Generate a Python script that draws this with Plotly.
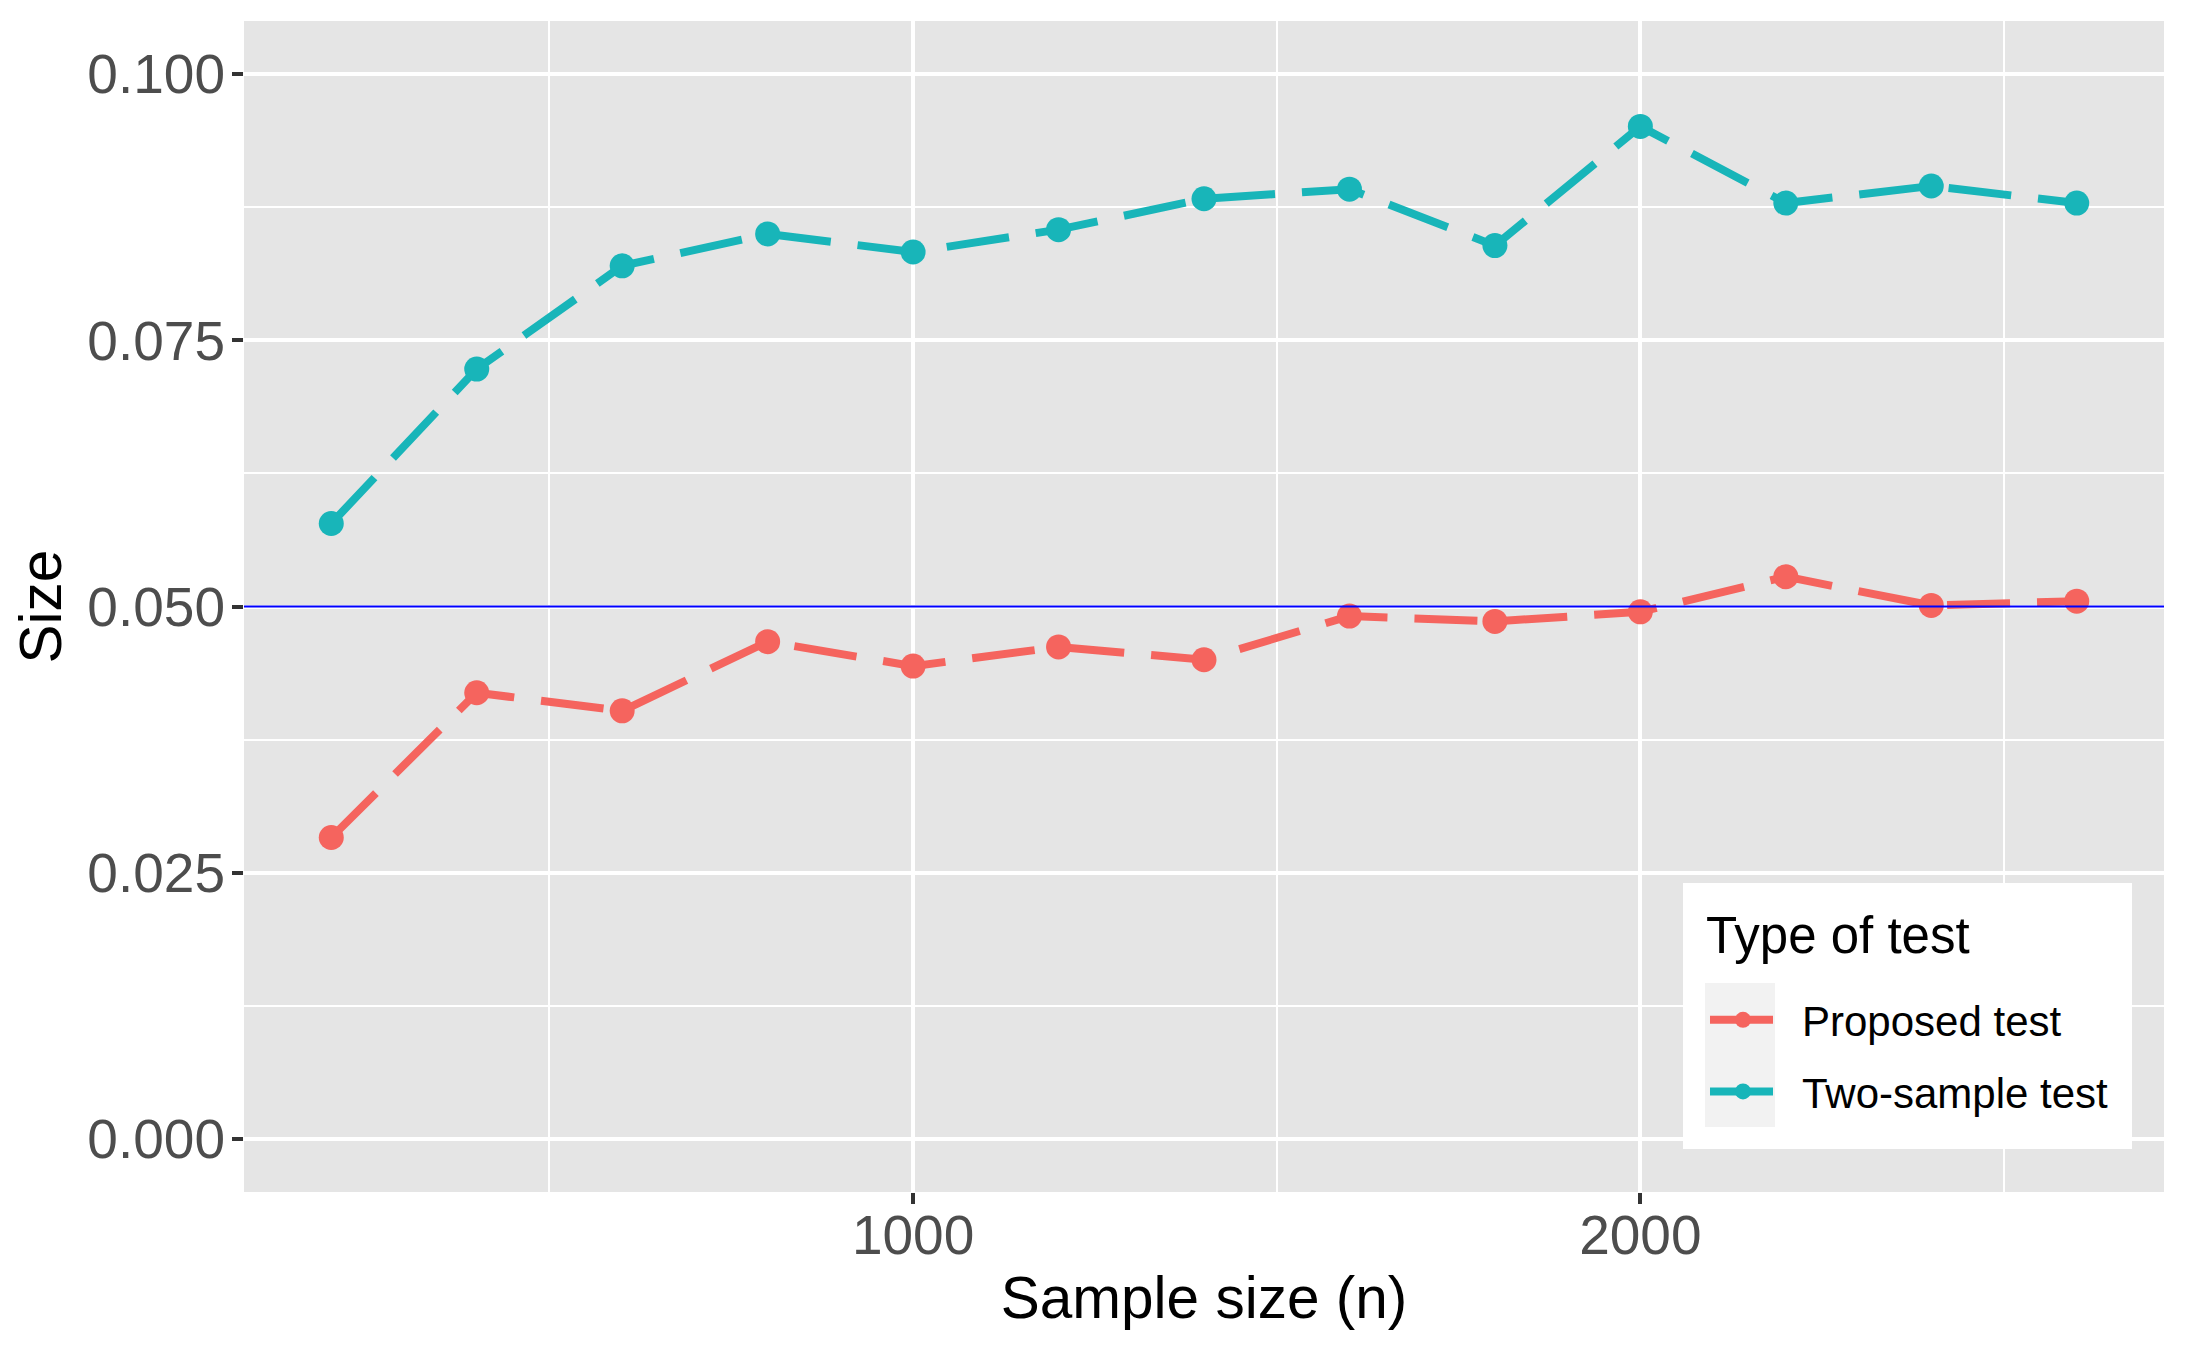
import plotly.graph_objects as go

sample_sizes = [200, 400, 600, 800, 1000, 1200, 1400, 1600, 1800, 2000, 2200, 2400, 2600]
proposed_test = [0.0283, 0.0419, 0.0402, 0.0467, 0.0444, 0.0462, 0.0450, 0.0491, 0.0486, 0.0495, 0.0528, 0.0501, 0.0505]
two_sample_test = [0.0578, 0.0723, 0.0820, 0.0850, 0.0833, 0.0854, 0.0883, 0.0892, 0.0839, 0.0951, 0.0879, 0.0895, 0.0879]
series_names = ["Proposed test", "Two-sample test"]
series_colors = ["#F5645E", "#18B5B9"]
legend_title = "Type of test"
nominal_level = 0.05
y_ticks = [0.0, 0.025, 0.05, 0.075, 0.1]
x_ticks = [1000, 2000]

FONT = "Liberation Sans, Arial, sans-serif"

# page body has an 8px margin; figure is sized to fit inside the window
W, H = 2171, 1335
L, T = 236, 13
R = W - (2164 - 8)
B = H - (1192 - 8)

def px_to_paper_x(px):
    return (px - 8 - L) / (W - L - R)

def px_to_paper_y(py):
    return (H - B - (py - 8)) / (H - T - B)

fig = go.Figure()
for name, vals, col in zip(series_names, [proposed_test, two_sample_test], series_colors):
    fig.add_trace(go.Scatter(
        x=sample_sizes, y=vals, name="\u2002" + name, mode="lines+markers",
        legendgroup=name,
        line=dict(color=col, width=8, dash="63px,27px"),
        marker=dict(color=col, size=25),
    ))

fig.add_hline(y=nominal_level, line=dict(color="#0000FF", width=2))

# legend background box and key background
fig.add_shape(type="rect", xref="paper", yref="paper",
              x0=px_to_paper_x(1683), x1=px_to_paper_x(2132),
              y0=px_to_paper_y(1149), y1=px_to_paper_y(883),
              fillcolor="white", line=dict(width=0), layer="above")
fig.add_shape(type="rect", xref="paper", yref="paper",
              x0=px_to_paper_x(1705), x1=px_to_paper_x(1775),
              y0=px_to_paper_y(1127), y1=px_to_paper_y(983),
              fillcolor="#F2F2F2", line=dict(width=0), layer="above")
fig.add_annotation(text=legend_title, xref="paper", yref="paper",
                   x=px_to_paper_x(1704), y=px_to_paper_y(935),
                   xanchor="left", yanchor="middle", showarrow=False,
                   font=dict(size=51, color="black", family=FONT))

fig.update_layout(
    width=W, height=H,
    margin=dict(l=L, r=R, t=T, b=B, pad=0),
    paper_bgcolor="white", plot_bgcolor="#E5E5E5",
    font=dict(family=FONT, color="black"),
    showlegend=True,
    legend=dict(
        font=dict(size=42, color="black", family=FONT),
        x=px_to_paper_x(1705), xanchor="left",
        y=px_to_paper_y(986), yanchor="top",
        bgcolor="rgba(0,0,0,0)", borderwidth=0,
        tracegroupgap=14, itemwidth=66,
    ),
    xaxis=dict(
        range=[80, 2720], tickvals=x_ticks, ticktext=[str(v) for v in x_ticks],
        showgrid=True, gridcolor="white", gridwidth=4,
        minor=dict(dtick=500, tick0=0, showgrid=True, gridcolor="white", gridwidth=2),
        ticks="outside", ticklen=11, tickwidth=4, tickcolor="#333333",
        tickfont=dict(size=55, color="#4D4D4D", family=FONT),
        ticklabelstandoff=-16,
        zeroline=False, showline=False,
        title=dict(text="Sample size (n)", font=dict(size=58.5, color="black", family=FONT), standoff=12),
        automargin=False,
    ),
    yaxis=dict(
        range=[-0.005, 0.105], tickvals=y_ticks, ticktext=[f"{v:.3f}" for v in y_ticks],
        showgrid=True, gridcolor="white", gridwidth=4,
        minor=dict(dtick=0.0125, tick0=0, showgrid=True, gridcolor="white", gridwidth=2),
        ticks="outside", ticklen=11, tickwidth=4, tickcolor="#333333",
        tickfont=dict(size=55, color="#4D4D4D", family=FONT),
        ticklabelstandoff=-4,
        zeroline=False, showline=False,
        title=dict(text="Size", font=dict(size=58.5, color="black", family=FONT), standoff=7),
        automargin=False,
    ),
)

fig.write_html("out.html")
